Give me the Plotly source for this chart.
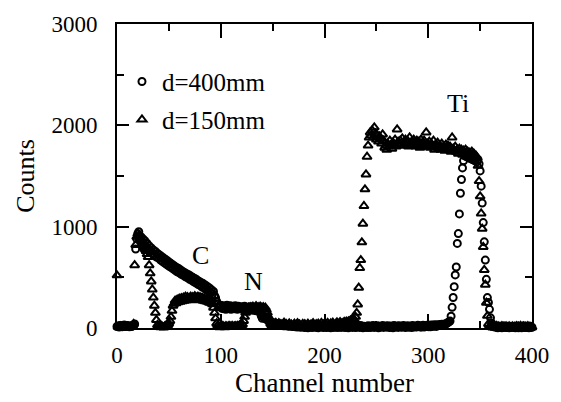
import plotly.graph_objects as go

# Channel numbers (x)
channels = list(range(0, 401))

# d=400mm (circles) counts per channel
counts_400 = [
    15, 20, 10, 25, 18, 12, 22, 30, 15, 20, 25, 18, 12, 20, 15, 22, 30, 40, 780, 880,
    930, 950, 890, 900, 860, 880, 830, 860, 800, 835, 780, 810, 760, 790, 735, 770, 720, 755, 700, 735,
    690, 720, 670, 705, 655, 690, 640, 675, 625, 660, 610, 645, 600, 630, 585, 615, 570, 600, 555, 590,
    545, 575, 530, 560, 520, 548, 505, 535, 495, 525, 480, 512, 470, 500, 455, 488, 445, 475, 430, 462,
    420, 450, 405, 438, 395, 425, 380, 410, 365, 395, 350, 378, 335, 360, 318, 300, 265, 235, 215, 210,
    225, 195, 220, 190, 215, 185, 225, 200, 190, 220, 185, 215, 195, 190, 220, 200, 185, 215, 195, 190,
    210, 185, 205, 215, 180, 205, 190, 185, 210, 180, 200, 175, 195, 180, 170, 190, 175, 165, 150, 120,
    95, 110, 100, 90, 105, 85, 95, 70, 60, 50, 55, 45, 40, 48, 38, 42, 35, 40, 30, 35,
    30, 38, 25, 32, 28, 20, 30, 25, 18, 22, 15, 20, 12, 18, 10, 15, 12, 8, 14, 10,
    18, 5, 22, 10, 3, 20, 8, 25, 4, 16, 10, 22, 6, 18, 2, 12, 24, 9, 15, 5,
    14, 20, 4, 24, 9, 17, 2, 21, 12, 6, 19, 8, 25, 4, 14, 20, 6, 16, 9, 22,
    5, 19, 12, 3, 23, 9, 16, 6, 21, 12, 4, 19, 9, 15, 6, 24, 11, 3, 18, 8,
    16, 5, 22, 10, 4, 19, 9, 25, 6, 15, 11, 21, 3, 18, 8, 12, 24, 6, 15, 20,
    8, 22, 11, 5, 19, 14, 3, 24, 9, 12, 20, 6, 23, 13, 8, 11, 25, 18, 5, 14,
    22, 8, 12, 20, 5, 24, 14, 9, 19, 11, 26, 13, 21, 8, 17, 27, 10, 23, 15, 26,
    13, 28, 12, 30, 16, 29, 18, 33, 16, 30, 24, 35, 26, 38, 28, 36, 34, 42, 45, 55,
    60, 68, 117, 204, 301, 408, 524, 602, 835, 932, 1126, 1330, 1466, 1580, 1650, 1700, 1720, 1690, 1710, 1680,
    1700, 1670, 1690, 1660, 1680, 1650, 1670, 1640, 1660, 1620, 1550, 1400, 1233, 1040, 850, 670, 480, 300, 252, 184,
    100, 50, 25, 15, 10, 18, 6, 3, 16, 7, 12, 2, 14, 20, 5, 11, 4, 17, 2, 13,
    6, 15, 4, 18, 2, 12, 20, 3, 14, 7, 2, 16, 19, 5, 13, 4, 12, 2, 18, 6,
    7,
]

# d=150mm (triangles) counts per channel
counts_150 = [
    520, 12, 8, 15, 10, 6, 14, 9, 11, 7, 13, 10, 8, 12, 15, 20, 40, 620, 820, 900,
    930, 910, 890, 870, 850, 820, 800, 780, 760, 730, 700, 620, 540, 460, 380, 300, 220, 150, 80, 30,
    20, 12, 8, 18, 12, 4, 16, 22, 10, 28, 45, 70, 110, 170, 220, 240, 270, 245, 280, 255,
    290, 260, 295, 265, 300, 270, 310, 275, 305, 280, 295, 310, 275, 305, 285, 315, 280, 300, 310, 280,
    305, 275, 300, 270, 295, 265, 285, 260, 280, 250, 270, 245, 235, 200, 150, 95, 45, 25, 12, 8,
    15, 10, 20, 12, 8, 18, 14, 10, 22, 16, 12, 20, 9, 15, 18, 12, 20, 14, 25, 18,
    22, 35, 70, 110, 150, 175, 190, 200, 185, 205, 195, 210, 190, 200, 215, 195, 205, 190, 210, 200,
    195, 205, 185, 200, 180, 150, 110, 70, 45, 30, 25, 45, 18, 50, 22, 12, 48, 20, 38, 10,
    36, 52, 14, 40, 8, 30, 46, 12, 35, 6, 28, 44, 10, 32, 48, 8, 36, 18, 6, 40,
    12, 38, 24, 5, 42, 28, 10, 35, 22, 48, 26, 8, 38, 20, 44, 10, 30, 50, 16, 36,
    22, 44, 12, 50, 30, 8, 46, 24, 52, 34, 14, 40, 55, 20, 42, 58, 26, 48, 30, 60,
    35, 62, 38, 66, 60, 75, 70, 90, 75, 80, 110, 150, 233, 398, 592, 670, 845, 1029, 1204, 1369,
    1515, 1690, 1800, 1880, 1930, 1900, 1950, 1880, 1980, 1920, 1860, 1900, 1840, 1890, 1870, 1820, 1910, 1850, 1780, 1800,
    1760, 1820, 1790, 1850, 1800, 1770, 1830, 1810, 1860, 1790, 1960, 1840, 1800, 1850, 1820, 1870, 1800, 1830, 1860, 1810,
    1850, 1790, 1880, 1820, 1840, 1800, 1860, 1830, 1790, 1850, 1810, 1840, 1780, 1860, 1820, 1800, 1850, 1790, 1930, 1820,
    1800, 1840, 1780, 1820, 1790, 1850, 1760, 1810, 1790, 1830, 1770, 1800, 1760, 1820, 1780, 1790, 1750, 1810, 1770, 1800,
    1760, 1790, 1740, 1880, 1770, 1750, 1790, 1740, 1760, 1720, 1770, 1740, 1760, 1710, 1750, 1730, 1760, 1700, 1740, 1720,
    1730, 1700, 1740, 1710, 1720, 1690, 1700, 1680, 1600, 1450, 1300, 1130, 980, 800, 573, 427, 250, 120, 40, 15,
    10, 18, 4, 14, 2, 12, 20, 5, 16, 3, 11, 19, 6, 14, 2, 17, 8, 4, 15, 9,
    3, 16, 7, 12, 2, 18, 5, 13, 9, 20, 4, 11, 17, 3, 14, 8, 19, 2, 12, 6,
    8,
]

x_ticks = [0, 100, 200, 300, 400]
y_ticks = [0, 1000, 2000, 3000]

peak_labels = ["C", "N", "Ti"]
peak_x = [80, 132, 329]
peak_y = [718, 456, 2214]

FONT = "Liberation Serif"

fig = go.Figure()
fig.add_trace(go.Scatter(
    x=channels, y=counts_400, mode="markers", name="d=400mm",
    marker=dict(symbol="circle-open", size=7, color="black", line=dict(width=2, color="black")),
    cliponaxis=False, legend="legend",
))
fig.add_trace(go.Scatter(
    x=channels, y=counts_150, mode="markers", name="d=150mm",
    marker=dict(symbol="triangle-up-open", size=8, color="black", line=dict(width=2, color="black")),
    cliponaxis=False, legend="legend2",
))

for t, xx, yy in zip(peak_labels, peak_x, peak_y):
    fig.add_annotation(x=xx, y=yy, text=t, showarrow=False,
                       font=dict(family=FONT, size=26, color="black"))

axis_common = dict(
    showgrid=False, zeroline=False, showline=True, linecolor="black", linewidth=2,
    mirror="allticks", ticks="inside", tickwidth=2, tickcolor="black",
    tickfont=dict(family=FONT, size=23, color="black"),
)

fig.update_xaxes(
    range=[0, 400], tickvals=x_ticks, ticklen=14,
    minor=dict(ticks="inside", ticklen=7, dtick=50, tickwidth=2, tickcolor="black", showgrid=False),
    title=dict(text="Channel number", font=dict(family=FONT, size=27, color="black"), standoff=4),
    ticklabelstandoff=5,
    **axis_common,
)
fig.update_yaxes(
    range=[0, 3000], tickvals=y_ticks, ticklen=12,
    minor=dict(ticks="inside", ticklen=7, dtick=500, tickwidth=2, tickcolor="black", showgrid=False),
    title=dict(text="Counts", font=dict(family=FONT, size=26, color="black"), standoff=9),
    ticklabelstandoff=13,
    **axis_common,
)

legend_common = dict(
    font=dict(family=FONT, size=25, color="black"),
    bgcolor="rgba(0,0,0,0)", borderwidth=0, xanchor="left", yanchor="middle",
    itemwidth=30,
)

fig.update_layout(
    width=561, height=402,
    margin=dict(l=117, r=29, t=20, b=73),
    paper_bgcolor="white", plot_bgcolor="white",
    showlegend=True,
    legend=dict(x=0.012, y=0.81, **legend_common),
    legend2=dict(x=0.012, y=0.685, **legend_common),
)

fig.write_html("out.html", config={"displayModeBar": False},
               post_script="document.body.style.margin='0';")
